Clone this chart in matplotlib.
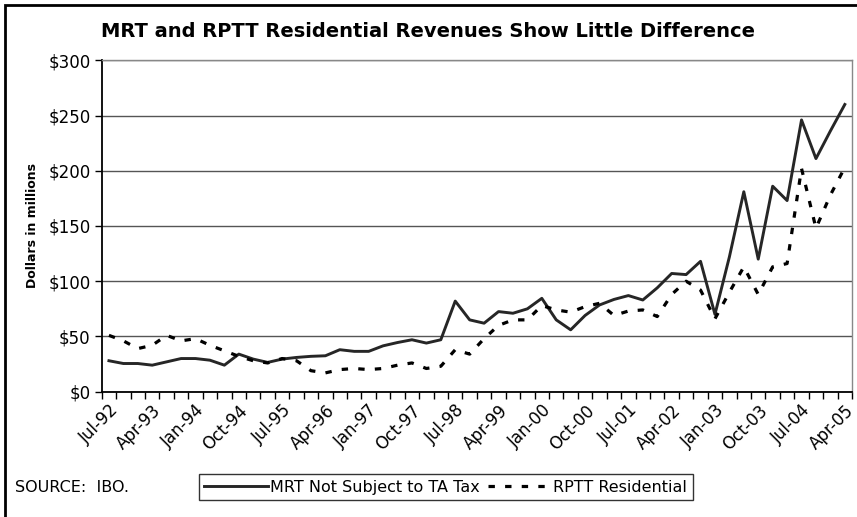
import matplotlib.pyplot as plt
from matplotlib.patches import Rectangle
import numpy as np

# quarterly data, Jul-92 .. Apr-05
quarters = []
months = ["Jan", "Apr", "Jul", "Oct"]
for k in range(52):
    m = (2 + k) % 4
    yr = 92 + (2 + k) // 4
    quarters.append("%s-%02d" % (months[m], yr % 100))

mrt = [28, 25.5, 25.5, 24, 27, 30, 30, 28.5, 24, 34,
       29.5, 26.5, 29.5, 31, 32, 32.5, 38, 36.5, 36.5, 41.5,
       44.5, 47, 44, 47, 82, 65, 62, 72.5, 71, 75,
       84.5, 65, 56, 69, 78.5, 83.5, 87, 83, 94, 107,
       106, 118, 70, 122, 181, 120, 186, 173, 246, 211,
       236, 260]

rptt = [51, 46, 39, 42, 51, 46, 48, 42, 37, 32,
        28, 26, 30, 28, 19, 17, 20, 21, 20, 21,
        24, 26, 21, 23, 38, 34, 48, 60, 65, 65,
        78, 74, 72, 77, 80, 69, 73, 74, 68, 88,
        100, 92, 66, 90, 113, 88, 113, 116, 202, 148,
        178, 203]

yticks = [0, 50, 100, 150, 200, 250, 300]

fig = plt.figure(figsize=(8.57, 5.17), dpi=100)
ax = fig.add_axes([0.1187, 0.2424, 0.8755, 0.641])

x = np.arange(len(quarters))
ax.plot(x, mrt, color="#262626", lw=2.1, label="MRT Not Subject to TA Tax")
ax.plot(x, rptt, color="black", lw=2.3, linestyle=(0, (2, 3.2)),
        dash_capstyle="butt", label="RPTT Residential")

ax.set_xlim(-0.5, len(quarters) - 0.5)
ax.set_ylim(0, 300)

# y axis
ax.set_yticks(yticks)
ax.set_yticklabels(["$%d" % v for v in yticks], fontsize=12)
ax.yaxis.grid(True, color="#555555", lw=1)
ax.set_axisbelow(True)

# x axis: tick marks between categories, labels every 3rd quarter
ax.set_xticks(np.arange(-0.5, len(quarters)), minor=False)
ax.set_xticklabels([])
ax.set_xticks(x[::3], minor=True)
ax.set_xticklabels(quarters[::3], minor=True, rotation=45, ha="right",
                   rotation_mode="anchor", fontsize=12)
ax.tick_params(axis="x", which="major", length=5, width=1, color="black", direction="out")
ax.tick_params(axis="x", which="minor", length=0, pad=7)
ax.tick_params(axis="y", length=5, width=1, color="black", direction="out", pad=3)

for s in ["top", "right"]:
    ax.spines[s].set_color("#888888")
    ax.spines[s].set_linewidth(1)
for s in ["left", "bottom"]:
    ax.spines[s].set_color("black")
    ax.spines[s].set_linewidth(1.3)

ax.set_ylabel("Dollars in millions", fontsize=9, fontweight="bold")
ax.yaxis.set_label_coords(-0.083, 0.5)

fig.text(0.499, 0.94, "MRT and RPTT Residential Revenues Show Little Difference",
         ha="center", va="center", fontsize=14, fontweight="bold")
fig.text(0.018, 0.058, "SOURCE:  IBO.", ha="left", va="center", fontsize=11.5)

leg = fig.legend(loc="center", bbox_to_anchor=(0.52, 0.058), ncol=2, fontsize=11.5,
                 frameon=True, fancybox=False, edgecolor="black",
                 handlelength=4.0, handletextpad=0.1, columnspacing=0.5,
                 borderpad=0.35)
leg.get_frame().set_linewidth(1)

# outer frame
fig.patches.append(Rectangle((5 / 857, -0.05), 1.2, 1 - 5 / 517 + 0.05,
                             transform=fig.transFigure, fill=False,
                             edgecolor="black", lw=2))

fig.savefig("out.png", dpi=100)
